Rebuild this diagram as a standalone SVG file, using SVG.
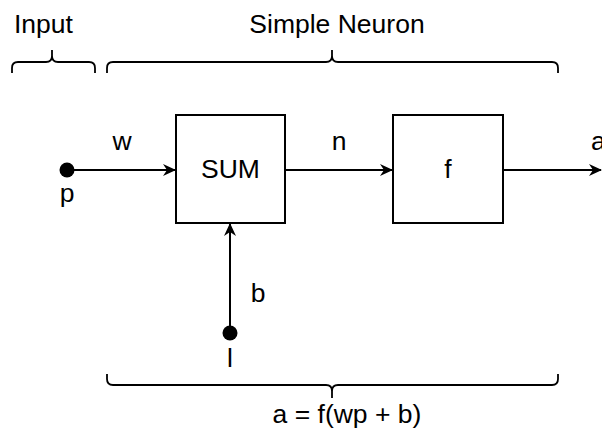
<svg xmlns="http://www.w3.org/2000/svg" width="602" height="434" viewBox="0 0 602 434">
<style>
text{font-family:"Liberation Sans",Arial,sans-serif;font-size:26.5px;fill:#000}
.box{fill:#fff;stroke:#000;stroke-width:2}
.edge{fill:none;stroke:#000;stroke-width:2}
.brace{fill:none;stroke:#000;stroke-width:1.8}
</style>
<defs>
<marker id="arr" viewBox="0 0 13 12" refX="12" refY="6" markerWidth="13" markerHeight="12" markerUnits="userSpaceOnUse" orient="auto">
<path d="M0,0 L13,6 L0,12 L4,6 z" fill="#000"/>
</marker>
</defs>
<g id="labels">
<text x="14" y="33">Input</text>
<text x="337" y="33" text-anchor="middle">Simple Neuron</text>
<text x="347" y="423" text-anchor="middle">a = f(wp + b)</text>
</g>
<g id="braces">
<path class="brace" d="M12,73 L12,68 Q12,62 18,62 L46,62 Q52,62 52,56 L52,50 L52,56 Q52,62 58,62 L89,62 Q95,62 95,68 L95,73"/>
<path class="brace" d="M107,73 L107,68 Q107,62 113,62 L326,62 Q332,62 332,56 L332,50 L332,56 Q332,62 338,62 L552,62 Q558,62 558,68 L558,73"/>
<path class="brace" d="M107,374 L107,379 Q107,385 113,385 L326,385 Q332,385 332,391 L332,398 L332,391 Q332,385 338,385 L552,385 Q558,385 558,379 L558,374"/>
</g>
<g id="connectors">
<line class="edge" x1="67" y1="170" x2="175" y2="170" marker-end="url(#arr)"/>
<line class="edge" x1="285" y1="170" x2="392" y2="170" marker-end="url(#arr)"/>
<line class="edge" x1="503" y1="170" x2="601" y2="170" marker-end="url(#arr)"/>
<line class="edge" x1="230" y1="333" x2="230" y2="224" marker-end="url(#arr)"/>
<text x="122" y="150" text-anchor="middle">w</text>
<text x="339" y="150" text-anchor="middle">n</text>
<text x="258" y="302" text-anchor="middle">b</text>
<text x="591" y="150">a</text>
</g>
<g id="node-p">
<circle cx="67" cy="170" r="7.5" fill="#000"/>
<text x="67" y="202" text-anchor="middle">p</text>
</g>
<g id="node-sum">
<rect class="box" x="176" y="115" width="109" height="108"/>
<text x="230.5" y="178" text-anchor="middle">SUM</text>
</g>
<g id="node-f">
<rect class="box" x="393" y="115" width="110" height="108"/>
<text x="448" y="178" text-anchor="middle">f</text>
</g>
<g id="node-bias">
<circle cx="230" cy="333" r="7.5" fill="#000"/>
<text x="230" y="367" text-anchor="middle">l</text>
</g>
</svg>
